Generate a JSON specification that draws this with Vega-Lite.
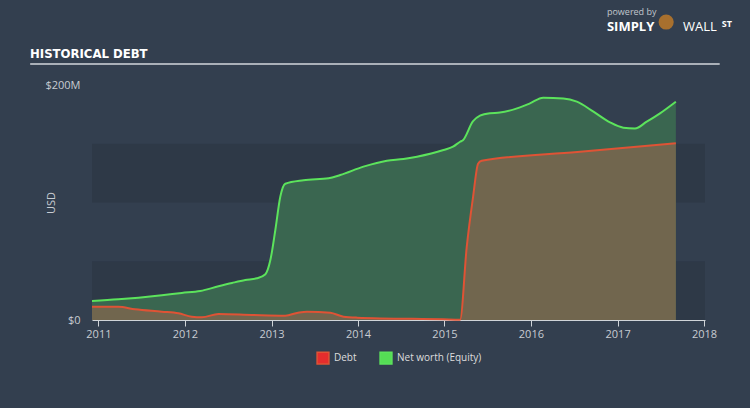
{
  "$schema": "https://vega.github.io/schema/vega-lite/v6.json",
  "width": 613,
  "height": 235,
  "autosize": {"type": "none"},
  "padding": {"left": 92, "top": 85, "right": 45, "bottom": 88},
  "background": "#333f4f",
  "title": {"text": "HISTORICAL DEBT", "anchor": "start", "frame": "group", "dx": -62, "offset": -53, "font": "'DejaVu Sans Condensed', 'Liberation Sans Narrow', Roboto, sans-serif", "fontSize": 13, "fontWeight": "bold", "color": "#ffffff"},
  "config": {
    "view": {"stroke": null},
    "legend": {"layout": {"bottom": {"anchor": "middle"}}},
    "axisX": {"title": null, "format": "%Y", "domainColor": "#d0d4d8", "tickColor": "#d0d4d8", "tickSize": 6, "labelColor": "#c8ccd2", "labelFontSize": 11, "labelFont": "Open Sans", "labelPadding": 2, "grid": false, "labelFlush": false},
    "axisY": {"domain": false, "ticks": false, "grid": false, "labelColor": "#c8ccd2", "labelFontSize": 11, "labelFont": "Open Sans", "labelPadding": 12, "titleColor": "#c8ccd2", "titleFontWeight": "normal", "titleFontSize": 11, "titleFont": "Open Sans", "titlePadding": -12}
  },
  "data": {"values": [
    {"date": "2010-12-05", "series": "Net worth (Equity)", "usd_m": 16.2},
    {"date": "2011-03-26", "series": "Net worth (Equity)", "usd_m": 17.6},
    {"date": "2011-06-19", "series": "Net worth (Equity)", "usd_m": 19.0},
    {"date": "2011-09-26", "series": "Net worth (Equity)", "usd_m": 21.0},
    {"date": "2011-12-19", "series": "Net worth (Equity)", "usd_m": 23.0},
    {"date": "2012-03-06", "series": "Net worth (Equity)", "usd_m": 24.7},
    {"date": "2012-05-22", "series": "Net worth (Equity)", "usd_m": 28.7},
    {"date": "2012-07-18", "series": "Net worth (Equity)", "usd_m": 31.5},
    {"date": "2012-09-12", "series": "Net worth (Equity)", "usd_m": 34.0},
    {"date": "2012-10-31", "series": "Net worth (Equity)", "usd_m": 35.5},
    {"date": "2012-12-06", "series": "Net worth (Equity)", "usd_m": 39.0},
    {"date": "2012-12-27", "series": "Net worth (Equity)", "usd_m": 51.0},
    {"date": "2013-01-17", "series": "Net worth (Equity)", "usd_m": 76.6},
    {"date": "2013-02-07", "series": "Net worth (Equity)", "usd_m": 105.0},
    {"date": "2013-02-28", "series": "Net worth (Equity)", "usd_m": 116.0},
    {"date": "2013-05-16", "series": "Net worth (Equity)", "usd_m": 119.0},
    {"date": "2013-08-30", "series": "Net worth (Equity)", "usd_m": 120.6},
    {"date": "2013-10-18", "series": "Net worth (Equity)", "usd_m": 123.4},
    {"date": "2014-01-24", "series": "Net worth (Equity)", "usd_m": 130.5},
    {"date": "2014-05-03", "series": "Net worth (Equity)", "usd_m": 135.6},
    {"date": "2014-07-12", "series": "Net worth (Equity)", "usd_m": 137.0},
    {"date": "2014-09-07", "series": "Net worth (Equity)", "usd_m": 139.0},
    {"date": "2014-12-28", "series": "Net worth (Equity)", "usd_m": 144.7},
    {"date": "2015-02-06", "series": "Net worth (Equity)", "usd_m": 147.5},
    {"date": "2015-03-08", "series": "Net worth (Equity)", "usd_m": 151.7},
    {"date": "2015-03-20", "series": "Net worth (Equity)", "usd_m": 153.0},
    {"date": "2015-05-01", "series": "Net worth (Equity)", "usd_m": 169.0},
    {"date": "2015-05-31", "series": "Net worth (Equity)", "usd_m": 174.0},
    {"date": "2015-07-12", "series": "Net worth (Equity)", "usd_m": 176.0},
    {"date": "2015-08-23", "series": "Net worth (Equity)", "usd_m": 176.5},
    {"date": "2015-11-16", "series": "Net worth (Equity)", "usd_m": 181.0},
    {"date": "2015-12-28", "series": "Net worth (Equity)", "usd_m": 184.4},
    {"date": "2016-02-22", "series": "Net worth (Equity)", "usd_m": 189.2},
    {"date": "2016-05-17", "series": "Net worth (Equity)", "usd_m": 188.6},
    {"date": "2016-07-13", "series": "Net worth (Equity)", "usd_m": 185.8},
    {"date": "2016-09-21", "series": "Net worth (Equity)", "usd_m": 177.3},
    {"date": "2016-11-30", "series": "Net worth (Equity)", "usd_m": 168.2},
    {"date": "2017-01-25", "series": "Net worth (Equity)", "usd_m": 163.7},
    {"date": "2017-03-15", "series": "Net worth (Equity)", "usd_m": 163.0},
    {"date": "2017-05-04", "series": "Net worth (Equity)", "usd_m": 168.8},
    {"date": "2017-06-29", "series": "Net worth (Equity)", "usd_m": 175.9},
    {"date": "2017-09-04", "series": "Net worth (Equity)", "usd_m": 185.8},
    {"date": "2010-12-05", "series": "Debt", "usd_m": 11.3},
    {"date": "2011-03-26", "series": "Debt", "usd_m": 11.3},
    {"date": "2011-06-05", "series": "Debt", "usd_m": 9.1},
    {"date": "2011-09-26", "series": "Debt", "usd_m": 7.1},
    {"date": "2011-12-05", "series": "Debt", "usd_m": 5.7},
    {"date": "2012-01-30", "series": "Debt", "usd_m": 2.8},
    {"date": "2012-03-13", "series": "Debt", "usd_m": 2.3},
    {"date": "2012-05-22", "series": "Debt", "usd_m": 5.1},
    {"date": "2012-10-10", "series": "Debt", "usd_m": 4.3},
    {"date": "2013-02-28", "series": "Debt", "usd_m": 3.7},
    {"date": "2013-04-23", "series": "Debt", "usd_m": 6.2},
    {"date": "2013-05-30", "series": "Debt", "usd_m": 7.1},
    {"date": "2013-09-06", "series": "Debt", "usd_m": 6.2},
    {"date": "2013-11-01", "series": "Debt", "usd_m": 2.8},
    {"date": "2013-12-28", "series": "Debt", "usd_m": 2.0},
    {"date": "2014-12-27", "series": "Debt", "usd_m": 0.6},
    {"date": "2015-03-08", "series": "Debt", "usd_m": 0.3},
    {"date": "2015-04-05", "series": "Debt", "usd_m": 62.0},
    {"date": "2015-05-02", "series": "Debt", "usd_m": 105.0},
    {"date": "2015-05-23", "series": "Debt", "usd_m": 133.0},
    {"date": "2015-06-07", "series": "Debt", "usd_m": 135.6},
    {"date": "2016-07-15", "series": "Debt", "usd_m": 143.0},
    {"date": "2017-09-04", "series": "Debt", "usd_m": 150.4}
  ]},
  "layer": [
    {
      "data": {"values": [{"from": 0, "to": 50}, {"from": 100, "to": 150}]},
      "mark": {"type": "rect", "color": "#2e3947"},
      "encoding": {
        "y": {"field": "from", "type": "quantitative", "scale": {"domain": [0, 200], "nice": false}, "title": "USD", "axis": {"values": [0, 200], "labelExpr": "datum.value == 0 ? '$0' : '$200M'"}},
        "y2": {"field": "to"}
      }
    },
    {
      "transform": [{"filter": "datum.series === 'Net worth (Equity)'"}],
      "mark": {"type": "area", "interpolate": "monotone", "color": "#3a6650"},
      "encoding": {
        "x": {"field": "date", "type": "temporal", "scale": {"domain": [{"year": 2010, "month": 12, "date": 5}, {"year": 2018, "month": 1, "date": 5}], "nice": false}, "axis": {"values": [{"year": 2011, "month": 1, "date": 1}, {"year": 2012, "month": 1, "date": 1}, {"year": 2013, "month": 1, "date": 1}, {"year": 2014, "month": 1, "date": 1}, {"year": 2015, "month": 1, "date": 1}, {"year": 2016, "month": 1, "date": 1}, {"year": 2017, "month": 1, "date": 1}, {"year": 2018, "month": 1, "date": 1}]}},
        "y": {"field": "usd_m", "type": "quantitative", "scale": {"domain": [0, 200], "nice": false}}
      }
    },
    {
      "transform": [{"filter": "datum.series === 'Debt'"}],
      "mark": {"type": "area", "interpolate": "monotone", "color": "#71664e"},
      "encoding": {
        "x": {"field": "date", "type": "temporal", "scale": {"domain": [{"year": 2010, "month": 12, "date": 5}, {"year": 2018, "month": 1, "date": 5}], "nice": false}},
        "y": {"field": "usd_m", "type": "quantitative", "scale": {"domain": [0, 200], "nice": false}}
      }
    },
    {
      "mark": {"type": "line", "interpolate": "monotone", "strokeWidth": 2},
      "encoding": {
        "x": {"field": "date", "type": "temporal", "scale": {"domain": [{"year": 2010, "month": 12, "date": 5}, {"year": 2018, "month": 1, "date": 5}], "nice": false}},
        "y": {"field": "usd_m", "type": "quantitative", "scale": {"domain": [0, 200], "nice": false}},
        "color": {"field": "series", "type": "nominal", "scale": {"domain": ["Debt", "Net worth (Equity)"], "range": ["#df5335", "#5ce35c"]},
          "legend": {"orient": "bottom", "direction": "horizontal", "title": null, "symbolType": "square", "symbolSize": 140, "labelColor": "#dddddd", "labelFontSize": 10, "labelFont": "Open Sans", "columnPadding": 20, "offset": 12,
            "encode": {"symbols": {"update": {"fill": {"signal": "datum.value === 'Debt' ? '#e52d2d' : '#55dd55'"}, "stroke": {"value": "transparent"}, "opacity": {"value": 1}}}}}
        }
      }
    },
    {
      "data": {"values": [{}]},
      "mark": {"type": "rule", "color": "#d3d7db", "strokeWidth": 1.5},
      "encoding": {
        "x": {"datum": {"year": 2010, "month": 3, "date": 19}, "type": "temporal"},
        "x2": {"datum": {"year": 2018, "month": 3, "date": 8}},
        "y": {"datum": 217.9, "type": "quantitative"}
      }
    },
    {
      "data": {"values": [{}]},
      "mark": {"type": "text", "text": "powered by", "align": "left", "baseline": "middle", "font": "Open Sans", "fontSize": 9, "color": "#c0c6cc"},
      "encoding": {
        "x": {"datum": {"year": 2016, "month": 11, "date": 17}, "type": "temporal"},
        "y": {"datum": 262.5, "type": "quantitative"}
      }
    },
    {
      "data": {"values": [{}]},
      "mark": {"type": "text", "text": "SIMPLY", "align": "left", "baseline": "middle", "font": "Open Sans", "fontSize": 13, "fontWeight": "bold", "color": "#ffffff"},
      "encoding": {
        "x": {"datum": {"year": 2016, "month": 11, "date": 17}, "type": "temporal"},
        "y": {"datum": 249.0, "type": "quantitative"}
      }
    },
    {
      "data": {"values": [{}]},
      "mark": {"type": "point", "shape": "circle", "filled": true, "size": 230, "color": "#a8702e", "opacity": 1},
      "encoding": {
        "x": {"datum": {"year": 2017, "month": 7, "date": 25}, "type": "temporal"},
        "y": {"datum": 253.6, "type": "quantitative"}
      }
    },
    {
      "data": {"values": [{}]},
      "mark": {"type": "text", "text": "WALL", "align": "left", "baseline": "middle", "font": "Open Sans", "fontSize": 13, "color": "#ffffff"},
      "encoding": {
        "x": {"datum": {"year": 2017, "month": 10, "date": 4}, "type": "temporal"},
        "y": {"datum": 249.0, "type": "quantitative"}
      }
    },
    {
      "data": {"values": [{}]},
      "mark": {"type": "text", "text": "ST", "align": "left", "baseline": "middle", "font": "Open Sans", "fontSize": 9, "fontWeight": "bold", "color": "#ffffff"},
      "encoding": {
        "x": {"datum": {"year": 2018, "month": 3, "date": 17}, "type": "temporal"},
        "y": {"datum": 251.9, "type": "quantitative"}
      }
    }
  ]
}
